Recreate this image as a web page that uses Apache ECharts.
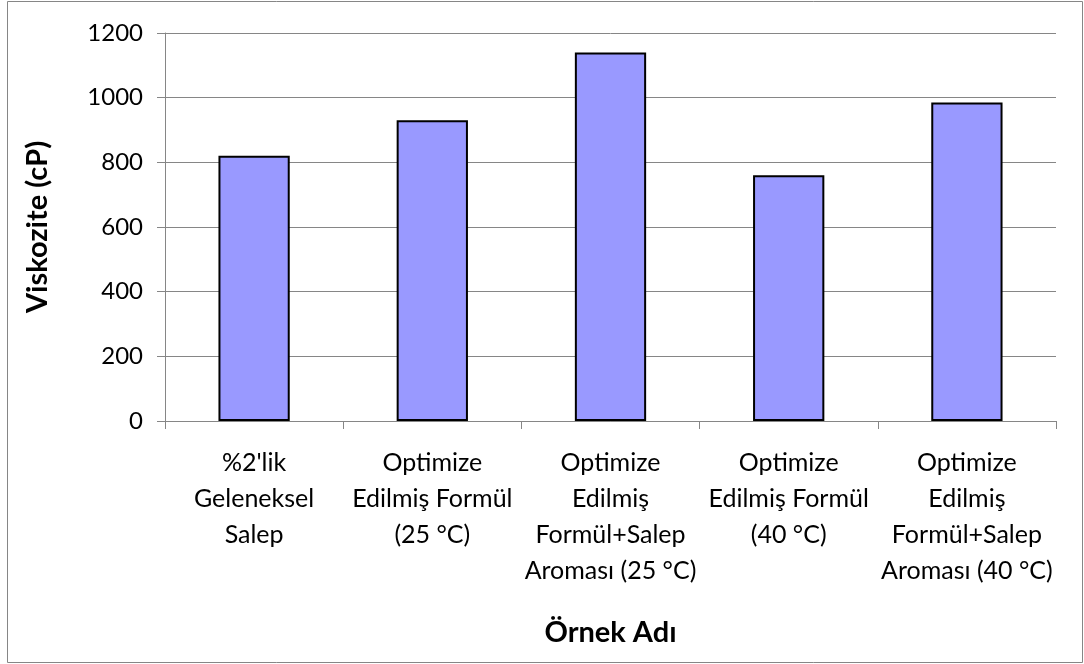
<!DOCTYPE html>
<html>
<head>
<meta charset="utf-8">
<script src="https://cdn.jsdelivr.net/npm/echarts@6/dist/echarts.min.js"></script>
<style>
  html, body { margin: 0; padding: 0; background: #fff; }
  #chart { width: 1084px; height: 664px; }
</style>
</head>
<body>
<div id="chart"></div>
<script>
// Sample names (tick labels, pre-wrapped) and measured viscosity in cP
const categories = [
  "%2'lik\nGeleneksel\nSalep",
  "Optimize\nEdilmiş Formül\n(25 °C)",
  "Optimize\nEdilmiş\nFormül+Salep\nAroması (25 °C)",
  "Optimize\nEdilmiş Formül\n(40 °C)",
  "Optimize\nEdilmiş\nFormül+Salep\nAroması (40 °C)"
];
const viscosity = [820, 930, 1140, 760, 985];
const yTicks = { min: 0, max: 1200, interval: 200 };

const FONT = 'Lato, "Open Sans", sans-serif';
const GRID_GREY = '#868686';

const chart = echarts.init(document.getElementById('chart'), null, { renderer: 'canvas' });
chart.setOption({
  animation: false,
  backgroundColor: '#ffffff',
  graphic: [{
    type: 'rect',
    shape: { x: 7.5, y: 1.5, width: 1075, height: 661 },
    style: { fill: 'none', stroke: GRID_GREY, lineWidth: 1 },
    silent: true,
    z: -1
  }],
  grid: { left: 165, right: 28, top: 33, bottom: 243 },
  xAxis: {
    type: 'category',
    data: categories,
    name: 'Örnek Adı',
    nameLocation: 'middle',
    nameGap: 197,
    nameTextStyle: { fontFamily: FONT, fontSize: 29, fontWeight: 'bold', color: '#000' },
    axisLine: { lineStyle: { color: GRID_GREY, width: 1 } },
    axisTick: { show: true, length: 8, alignWithLabel: false, lineStyle: { color: GRID_GREY } },
    axisLabel: {
      interval: 0,
      margin: 24,
      fontFamily: FONT,
      fontSize: 25,
      lineHeight: 36,
      color: '#000',
      align: 'center',
      verticalAlign: 'top'
    }
  },
  yAxis: {
    type: 'value',
    min: yTicks.min,
    max: yTicks.max,
    interval: yTicks.interval,
    name: 'Viskozite (cP)',
    nameLocation: 'middle',
    nameRotate: 90,
    nameGap: 113,
    nameTextStyle: { fontFamily: FONT, fontSize: 29, fontWeight: 'bold', color: '#000' },
    axisLine: { show: true, lineStyle: { color: GRID_GREY, width: 1 } },
    axisTick: { show: true, length: 8, lineStyle: { color: GRID_GREY } },
    splitLine: { show: true, lineStyle: { color: GRID_GREY, width: 1 } },
    axisLabel: {
      margin: 22,
      fontFamily: FONT,
      fontSize: 24,
      color: '#000',
      formatter: (v) => String(v)
    }
  },
  series: [{
    type: 'bar',
    data: viscosity,
    barWidth: '40%',
    itemStyle: { color: '#9999FF', borderColor: '#000000', borderWidth: 2 }
  }]
});
</script>
</body>
</html>
